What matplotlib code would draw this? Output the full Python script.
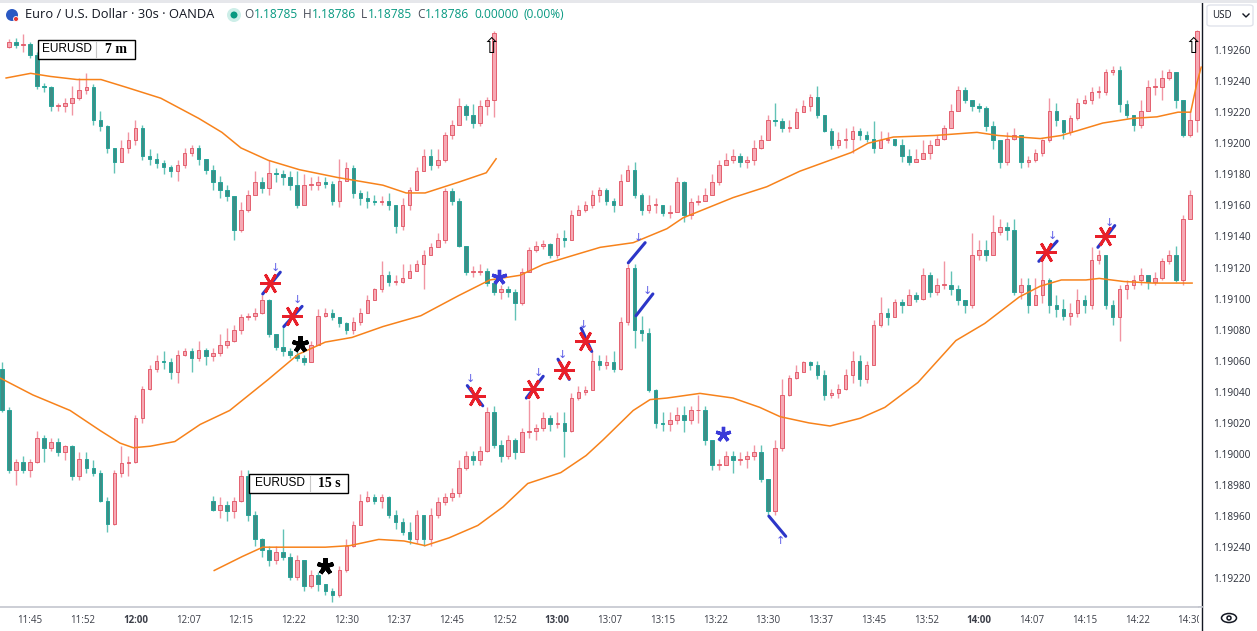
import matplotlib
matplotlib.use("Agg")
import matplotlib.pyplot as plt
from matplotlib.patches import Rectangle, Ellipse, FancyBboxPatch
from matplotlib.lines import Line2D
import numpy as np

plt.rcParams['font.family'] = ['Open Sans', 'DejaVu Sans']

W, H = 1257, 631

# ---- main 30s series (one candle per minute, x = minutes after 11:45) ----
main_t = np.arange(-4, 167)
main_open0 = 1.19055
main_close = [
    1.19028, 1.18990, 1.18995, 1.18990, 1.18995, 1.19010, 1.19004, 1.19008, 1.19001, 1.19005,
    1.18986, 1.18997, 1.18991, 1.18988, 1.18970, 1.18955, 1.18988, 1.18994, 1.18995, 1.19023,
    1.19042, 1.19055, 1.19060, 1.19059, 1.19053, 1.19064, 1.19066, 1.19062, 1.19067, 1.19063,
    1.19065, 1.19070, 1.19073, 1.19080, 1.19088, 1.19089, 1.19091, 1.19099, 1.19077, 1.19069,
    1.19066, 1.19064, 1.19062, 1.19059, 1.19070, 1.19089, 1.19091, 1.19088, 1.19084, 1.19080,
    1.19085, 1.19091, 1.19099, 1.19106, 1.19115, 1.19111, 1.19111, 1.19113, 1.19118, 1.19122,
    1.19128, 1.19133, 1.19138, 1.19169, 1.19163, 1.19134, 1.19117, 1.19117, 1.19118, 1.19110,
    1.19104, 1.19106, 1.19104, 1.19097, 1.19117, 1.19131, 1.19134, 1.19135, 1.19128, 1.19139,
    1.19138, 1.19154, 1.19157, 1.19160, 1.19167, 1.19170, 1.19163, 1.19160, 1.19176, 1.19183,
    1.19167, 1.19157, 1.19160, 1.19160, 1.19155, 1.19156, 1.19175, 1.19154, 1.19162, 1.19163,
    1.19167, 1.19175, 1.19186, 1.19189, 1.19192, 1.19188, 1.19189, 1.19197, 1.19202, 1.19215,
    1.19214, 1.19210, 1.19210, 1.19220, 1.19224, 1.19230, 1.19218, 1.19208, 1.19199, 1.19202,
    1.19203, 1.19208, 1.19205, 1.19203, 1.19197, 1.19202, 1.19203, 1.19199, 1.19192, 1.19188,
    1.19190, 1.19194, 1.19199, 1.19203, 1.19210, 1.19221, 1.19234, 1.19228, 1.19224, 1.19223,
    1.19211, 1.19202, 1.19188, 1.19203, 1.19205, 1.19188, 1.19189, 1.19194, 1.19202, 1.19221,
    1.19215, 1.19207, 1.19216, 1.19226, 1.19228, 1.19233, 1.19233, 1.19246, 1.19247, 1.19225,
    1.19218, 1.19212, 1.19221, 1.19236, 1.19236, 1.19242, 1.19246, 1.19228, 1.19205, 1.19215,
    1.19272,
]
main_high = [
    1.19059, 1.19030, 1.18997, 1.18999, 1.18997, 1.19015, 1.19012, 1.19010, 1.19010, 1.19006,
    1.19006, 1.19001, 1.19001, 1.18996, 1.18990, 1.18972, 1.18990, 1.19005, 1.18999, 1.19025,
    1.19044, 1.19057, 1.19064, 1.19066, 1.19062, 1.19067, 1.19068, 1.19068, 1.19073, 1.19068,
    1.19068, 1.19077, 1.19081, 1.19083, 1.19090, 1.19091, 1.19094, 1.19102, 1.19100, 1.19077,
    1.19082, 1.19068, 1.19067, 1.19064, 1.19073, 1.19093, 1.19094, 1.19093, 1.19088, 1.19085,
    1.19088, 1.19094, 1.19102, 1.19107, 1.19124, 1.19118, 1.19115, 1.19122, 1.19122, 1.19125,
    1.19131, 1.19136, 1.19142, 1.19171, 1.19171, 1.19165, 1.19134, 1.19121, 1.19122, 1.19120,
    1.19112, 1.19109, 1.19108, 1.19106, 1.19120, 1.19133, 1.19137, 1.19138, 1.19136, 1.19142,
    1.19144, 1.19157, 1.19160, 1.19163, 1.19170, 1.19172, 1.19171, 1.19165, 1.19180, 1.19186,
    1.19188, 1.19168, 1.19167, 1.19165, 1.19160, 1.19160, 1.19178, 1.19176, 1.19165, 1.19167,
    1.19171, 1.19180, 1.19189, 1.19194, 1.19196, 1.19194, 1.19192, 1.19202, 1.19205, 1.19218,
    1.19226, 1.19216, 1.19215, 1.19223, 1.19228, 1.19232, 1.19237, 1.19218, 1.19210, 1.19207,
    1.19210, 1.19211, 1.19210, 1.19208, 1.19214, 1.19208, 1.19207, 1.19203, 1.19203, 1.19196,
    1.19196, 1.19202, 1.19202, 1.19205, 1.19212, 1.19225, 1.19237, 1.19236, 1.19226, 1.19226,
    1.19224, 1.19214, 1.19199, 1.19207, 1.19210, 1.19205, 1.19192, 1.19196, 1.19203, 1.19229,
    1.19226, 1.19215, 1.19218, 1.19229, 1.19231, 1.19236, 1.19237, 1.19248, 1.19250, 1.19250,
    1.19228, 1.19218, 1.19228, 1.19241, 1.19242, 1.19247, 1.19248, 1.19246, 1.19228, 1.19221,
    1.19273,
]
main_low = [
    1.19027, 1.18988, 1.18980, 1.18988, 1.18985, 1.18994, 1.18995, 1.19002, 1.18999, 1.18996,
    1.18983, 1.18983, 1.18988, 1.18986, 1.18969, 1.18950, 1.18954, 1.18985, 1.18986, 1.18994,
    1.19020, 1.19041, 1.19053, 1.19055, 1.19048, 1.19046, 1.19063, 1.19053, 1.19060, 1.19057,
    1.19060, 1.19063, 1.19068, 1.19072, 1.19077, 1.19086, 1.19086, 1.19090, 1.19075, 1.19067,
    1.19063, 1.19062, 1.19060, 1.19057, 1.19059, 1.19070, 1.19088, 1.19086, 1.19082, 1.19077,
    1.19077, 1.19083, 1.19091, 1.19099, 1.19104, 1.19108, 1.19109, 1.19110, 1.19114, 1.19118,
    1.19106, 1.19128, 1.19133, 1.19136, 1.19160, 1.19133, 1.19115, 1.19114, 1.19115, 1.19108,
    1.19102, 1.19100, 1.19101, 1.19086, 1.19096, 1.19117, 1.19130, 1.19132, 1.19126, 1.19126,
    1.19133, 1.19138, 1.19154, 1.19156, 1.19158, 1.19162, 1.19160, 1.19156, 1.19160, 1.19176,
    1.19165, 1.19154, 1.19155, 1.19155, 1.19153, 1.19152, 1.19156, 1.19149, 1.19151, 1.19160,
    1.19163, 1.19170, 1.19173, 1.19186, 1.19187, 1.19185, 1.19184, 1.19186, 1.19196, 1.19202,
    1.19211, 1.19207, 1.19207, 1.19212, 1.19220, 1.19221, 1.19216, 1.19207, 1.19196, 1.19197,
    1.19197, 1.19194, 1.19202, 1.19201, 1.19194, 1.19199, 1.19200, 1.19198, 1.19188, 1.19186,
    1.19188, 1.19190, 1.19190, 1.19201, 1.19202, 1.19211, 1.19221, 1.19226, 1.19221, 1.19220,
    1.19208, 1.19196, 1.19184, 1.19186, 1.19202, 1.19184, 1.19185, 1.19188, 1.19192, 1.19201,
    1.19211, 1.19203, 1.19205, 1.19215, 1.19225, 1.19225, 1.19229, 1.19231, 1.19244, 1.19220,
    1.19216, 1.19208, 1.19210, 1.19229, 1.19231, 1.19228, 1.19241, 1.19223, 1.19204, 1.19204,
    1.19207,
]
main_ma_t = [-4.3, 0.4, 5.7, 10.0, 12.8, 14.7, 17.1, 20.6, 24.2, 28.4, 33.9, 38.1, 42.0, 45.8,
             50.2, 55.6, 61.0, 65.4, 69.7, 73.0, 77.4, 81.1, 85.8, 90.6, 92.9, 100.0, 104.8,
             109.5, 116.8, 119.2, 122.8, 128.7, 134.7, 137.7, 143.7, 146.7, 152.6, 156.8,
             160.3, 163.3, 165.1, 166.0, 166.6]
main_ma = [1.19049, 1.19038, 1.19028, 1.19015, 1.19007, 1.19004, 1.19005, 1.19008, 1.19019,
           1.19028, 1.19048, 1.19064, 1.19072, 1.19075, 1.19082, 1.19089, 1.19102, 1.19112,
           1.19115, 1.19122, 1.19128, 1.19133, 1.19136, 1.19145, 1.19152, 1.19165, 1.19172,
           1.19182, 1.19194, 1.19200, 1.19204, 1.19205, 1.19207, 1.19205, 1.19203, 1.19205,
           1.19213, 1.19216, 1.19217, 1.19220, 1.19220, 1.19239, 1.19249]

# ---- pasted "EURUSD 7 m" picture ----
m7_t = np.arange(-3, 67)
m7_open0 = 1.19262
m7_close = [
    1.19265, 1.19263, 1.19264, 1.19257, 1.19237, 1.19236, 1.19224, 1.19224, 1.19226, 1.19229,
    1.19234, 1.19236, 1.19215, 1.19211, 1.19197, 1.19188, 1.19197, 1.19202, 1.19210, 1.19192,
    1.19190, 1.19187, 1.19185, 1.19182, 1.19186, 1.19194, 1.19197, 1.19190, 1.19183, 1.19175,
    1.19170, 1.19166, 1.19144, 1.19157, 1.19167, 1.19175, 1.19171, 1.19181, 1.19180, 1.19178,
    1.19173, 1.19160, 1.19173, 1.19173, 1.19175, 1.19174, 1.19163, 1.19176, 1.19184, 1.19168,
    1.19165, 1.19163, 1.19162, 1.19163, 1.19160, 1.19147, 1.19160, 1.19170, 1.19182, 1.19192,
    1.19186, 1.19189, 1.19205, 1.19212, 1.19224, 1.19218, 1.19213, 1.19224, 1.19228, 1.19271,
]
m7_high = [
    1.19267, 1.19268, 1.19270, 1.19265, 1.19259, 1.19239, 1.19237, 1.19226, 1.19229, 1.19237,
    1.19242, 1.19245, 1.19238, 1.19221, 1.19212, 1.19197, 1.19202, 1.19207, 1.19215, 1.19212,
    1.19196, 1.19194, 1.19189, 1.19186, 1.19189, 1.19197, 1.19199, 1.19199, 1.19190, 1.19186,
    1.19179, 1.19173, 1.19165, 1.19162, 1.19170, 1.19182, 1.19178, 1.19189, 1.19184, 1.19183,
    1.19182, 1.19182, 1.19180, 1.19178, 1.19179, 1.19178, 1.19176, 1.19190, 1.19188, 1.19186,
    1.19170, 1.19169, 1.19167, 1.19166, 1.19168, 1.19160, 1.19165, 1.19172, 1.19185, 1.19196,
    1.19196, 1.19196, 1.19207, 1.19215, 1.19229, 1.19225, 1.19225, 1.19228, 1.19230, 1.19272,
]
m7_low = [
    1.19261, 1.19261, 1.19259, 1.19255, 1.19235, 1.19233, 1.19221, 1.19221, 1.19220, 1.19218,
    1.19228, 1.19232, 1.19212, 1.19208, 1.19194, 1.19181, 1.19189, 1.19194, 1.19199, 1.19189,
    1.19186, 1.19184, 1.19180, 1.19178, 1.19176, 1.19184, 1.19192, 1.19186, 1.19180, 1.19170,
    1.19165, 1.19163, 1.19138, 1.19143, 1.19156, 1.19167, 1.19168, 1.19167, 1.19175, 1.19173,
    1.19170, 1.19158, 1.19163, 1.19170, 1.19170, 1.19171, 1.19160, 1.19159, 1.19180, 1.19165,
    1.19160, 1.19158, 1.19160, 1.19160, 1.19157, 1.19142, 1.19144, 1.19157, 1.19170, 1.19182,
    1.19183, 1.19184, 1.19188, 1.19203, 1.19212, 1.19215, 1.19210, 1.19211, 1.19218, 1.19217,
]
m7_ma_t = [-3.4, 0.1, 2.9, 6.7, 10.1, 13.7, 18.6, 24.0, 27.3, 30.0, 33.9, 38.3, 43.7, 50.2,
           53.5, 56.2, 61.0, 64.9, 66.3]
m7_ma = [1.19242, 1.19245, 1.19243, 1.19241, 1.19241, 1.19236, 1.19229, 1.19216, 1.19207,
         1.19197, 1.19189, 1.19183, 1.19178, 1.19173, 1.19168, 1.19168, 1.19175, 1.19181, 1.19190]

# ---- pasted "EURUSD 15 s" picture ----
s15_t = np.arange(26, 166)
s15_open0 = 1.18970
s15_close = [
    1.18964, 1.18967, 1.18963, 1.18970, 1.18986, 1.18961, 1.18945, 1.18938, 1.18932, 1.18937,
    1.18934, 1.18921, 1.18932, 1.18915, 1.18922, 1.18916, 1.18912, 1.18909, 1.18925, 1.18941,
    1.18954, 1.18970, 1.18972, 1.18970, 1.18972, 1.18961, 1.18956, 1.18950, 1.18945, 1.18961,
    1.18945, 1.18961, 1.18969, 1.18972, 1.18975, 1.18991, 1.18999, 1.18996, 1.19002, 1.19027,
    1.19006, 1.18999, 1.19009, 1.19001, 1.19014, 1.19015, 1.19017, 1.19023, 1.19019, 1.19020,
    1.19015, 1.19036, 1.19040, 1.19041, 1.19060, 1.19057, 1.19059, 1.19055, 1.19085, 1.19120,
    1.19080, 1.19078, 1.19041, 1.19020, 1.19019, 1.19022, 1.19025, 1.19022, 1.19028, 1.19028,
    1.19009, 1.18993, 1.18993, 1.18999, 1.18996, 1.18997, 1.18999, 1.19001, 1.18984, 1.18963,
    1.19004, 1.19038, 1.19049, 1.19053, 1.19059, 1.19057, 1.19051, 1.19038, 1.19039, 1.19042,
    1.19051, 1.19060, 1.19048, 1.19057, 1.19083, 1.19091, 1.19088, 1.19098, 1.19096, 1.19102,
    1.19100, 1.19115, 1.19104, 1.19109, 1.19109, 1.19106, 1.19099, 1.19096, 1.19128, 1.19131,
    1.19128, 1.19143, 1.19146, 1.19144, 1.19104, 1.19109, 1.19096, 1.19102, 1.19112, 1.19096,
    1.19093, 1.19089, 1.19091, 1.19099, 1.19096, 1.19125, 1.19128, 1.19096, 1.19088, 1.19106,
    1.19109, 1.19112, 1.19115, 1.19111, 1.19113, 1.19124, 1.19128, 1.19112, 1.19151, 1.19167,
]
s15_high = [
    1.18973, 1.18972, 1.18970, 1.18972, 1.18990, 1.18990, 1.18963, 1.18946, 1.18941, 1.18941,
    1.18952, 1.18936, 1.18935, 1.18930, 1.18925, 1.18924, 1.18916, 1.18914, 1.18928, 1.18945,
    1.18957, 1.18974, 1.18976, 1.18974, 1.18974, 1.18973, 1.18964, 1.18959, 1.18956, 1.18964,
    1.18961, 1.18965, 1.18972, 1.18975, 1.18978, 1.18996, 1.19002, 1.19002, 1.19005, 1.19030,
    1.19031, 1.19009, 1.19012, 1.19010, 1.19017, 1.19035, 1.19019, 1.19027, 1.19025, 1.19027,
    1.19027, 1.19039, 1.19044, 1.19044, 1.19066, 1.19064, 1.19064, 1.19066, 1.19088, 1.19122,
    1.19122, 1.19089, 1.19081, 1.19042, 1.19027, 1.19027, 1.19030, 1.19031, 1.19031, 1.19038,
    1.19031, 1.19009, 1.18997, 1.19002, 1.19002, 1.19001, 1.19002, 1.19006, 1.19006, 1.18980,
    1.19009, 1.19048, 1.19051, 1.19057, 1.19060, 1.19060, 1.19060, 1.19054, 1.19042, 1.19045,
    1.19055, 1.19066, 1.19064, 1.19060, 1.19086, 1.19101, 1.19094, 1.19100, 1.19100, 1.19106,
    1.19104, 1.19120, 1.19117, 1.19113, 1.19124, 1.19118, 1.19109, 1.19099, 1.19142, 1.19138,
    1.19138, 1.19154, 1.19151, 1.19149, 1.19151, 1.19113, 1.19113, 1.19113, 1.19124, 1.19113,
    1.19102, 1.19100, 1.19097, 1.19106, 1.19102, 1.19133, 1.19131, 1.19128, 1.19099, 1.19109,
    1.19112, 1.19115, 1.19120, 1.19115, 1.19117, 1.19126, 1.19131, 1.19134, 1.19154, 1.19170,
]
s15_low = [
    1.18963, 1.18959, 1.18957, 1.18959, 1.18969, 1.18957, 1.18941, 1.18934, 1.18928, 1.18929,
    1.18932, 1.18919, 1.18919, 1.18912, 1.18914, 1.18912, 1.18909, 1.18905, 1.18908, 1.18924,
    1.18940, 1.18954, 1.18969, 1.18968, 1.18965, 1.18959, 1.18952, 1.18948, 1.18942, 1.18943,
    1.18941, 1.18941, 1.18959, 1.18967, 1.18970, 1.18972, 1.18990, 1.18993, 1.18993, 1.19001,
    1.19004, 1.18995, 1.18997, 1.18997, 1.19002, 1.19010, 1.19009, 1.19015, 1.19015, 1.19017,
    1.18998, 1.19014, 1.19035, 1.19038, 1.19041, 1.19054, 1.19055, 1.19053, 1.19054, 1.19083,
    1.19068, 1.19073, 1.19040, 1.19017, 1.19015, 1.19015, 1.19019, 1.19014, 1.19019, 1.19020,
    1.19006, 1.18990, 1.18990, 1.18995, 1.18988, 1.18993, 1.18991, 1.18996, 1.18982, 1.18960,
    1.18961, 1.19002, 1.19037, 1.19048, 1.19053, 1.19054, 1.19048, 1.19035, 1.19036, 1.19036,
    1.19041, 1.19046, 1.19044, 1.19046, 1.19059, 1.19082, 1.19083, 1.19088, 1.19091, 1.19096,
    1.19098, 1.19099, 1.19101, 1.19102, 1.19106, 1.19102, 1.19096, 1.19091, 1.19094, 1.19125,
    1.19124, 1.19133, 1.19141, 1.19138, 1.19102, 1.19100, 1.19091, 1.19096, 1.19097, 1.19091,
    1.19088, 1.19086, 1.19083, 1.19088, 1.19091, 1.19093, 1.19122, 1.19093, 1.19083, 1.19073,
    1.19100, 1.19106, 1.19109, 1.19106, 1.19109, 1.19112, 1.19122, 1.19111, 1.19109, 1.19152,
]
s15_ma_t = [26.2, 30.2, 33.1, 37.3, 42.0, 45.5, 49.6, 53.2, 56.2, 59.6, 63.7, 67.3, 70.8,
            75.5, 79.1, 81.5, 85.8, 88.2, 90.6, 95.3, 100.0, 103.8, 106.7, 110.8, 113.8,
            118.1, 121.6, 126.3, 131.7, 135.8, 140.7, 143.7, 146.7, 150.2, 152.1, 155.6,
            159.7, 163.3, 165.3]
s15_ma = [1.18925, 1.18934, 1.18940, 1.18940, 1.18940, 1.18941, 1.18945, 1.18944, 1.18941,
          1.18946, 1.18954, 1.18966, 1.18981, 1.18988, 1.18999, 1.19009, 1.19028, 1.19035,
          1.19036, 1.19039, 1.19036, 1.19030, 1.19024, 1.19020, 1.19018, 1.19023, 1.19030,
          1.19046, 1.19073, 1.19084, 1.19101, 1.19108, 1.19112, 1.19112, 1.19113, 1.19111,
          1.19110, 1.19110, 1.19110]

# ---- hand-drawn annotations ----
red_star_t = [34.1, 37.3, 63.3, 71.6, 76.0, 78.9, 144.5, 152.9]
red_star_p = [1.19110, 1.19089, 1.19037, 1.19042, 1.19054, 1.19073, 1.19130, 1.19140]
blue_seg_t = [(33.1, 35.6), (36.1, 38.7), (62.2, 64.4), (70.6, 73.0), (75.1, 76.7),
              (78.4, 79.9), (85.1, 87.5), (86.2, 88.6), (105.1, 107.5), (143.5, 146.1),
              (151.9, 154.3)]
blue_seg_p = [(1.19103, 1.19117), (1.19082, 1.19095), (1.19044, 1.19031), (1.19036, 1.19050),
              (1.19061, 1.19048), (1.19081, 1.19066), (1.19123, 1.19136), (1.19089, 1.19103),
              (1.18960, 1.18947), (1.19124, 1.19137), (1.19133, 1.19147)]
down_arrow_t = [34.9, 38.0, 62.7, 72.3, 75.7, 78.7, 86.6, 87.8, 145.4, 153.6]
down_arrow_p = [1.19120, 1.19099, 1.19048, 1.19052, 1.19064, 1.19083, 1.19139, 1.19105,
                1.19140, 1.19149]
up_arrow_t = [106.7]
up_arrow_p = [1.18944]
blue_ast_t = [66.7, 98.6]
blue_ast_p = [1.19114, 1.19013]
black_ast_t = [38.4, 42.0]
black_ast_p = [1.19071, 1.18928]
hollow_arrow_t = [65.6, 165.4]
hollow_arrow_p = [1.19262, 1.19262]

time_labels = ['11:45', '11:52', '12:00', '12:07', '12:15', '12:22', '12:30', '12:37',
               '12:45', '12:52', '13:00', '13:07', '13:15', '13:22', '13:30', '13:37',
               '13:45', '13:52', '14:00', '14:07', '14:15', '14:22', '14:30']
price_ticks = [1.19260, 1.19240, 1.19220, 1.19200, 1.19180, 1.19160, 1.19140, 1.19120,
               1.19100, 1.19080, 1.19060, 1.19040, 1.19020, 1.19000, 1.18980, 1.18960,
               1.18940, 1.18920]
price_labels = ['1.19260', '1.19240', '1.19220', '1.19200', '1.19180', '1.19160', '1.19140',
                '1.19120', '1.19100', '1.19080', '1.19060', '1.19040', '1.19020', '1.19000',
                '1.18980', '1.18960', '1.19240', '1.19220']

header_title = 'Euro / U.S. Dollar · 30s · OANDA'
header_ohlc = [('O', '1.18785'), ('H', '1.18786'), ('L', '1.18785'), ('C', '1.18786'),
               ('', '0.00000'), ('', '(0.00%)')]

UP_FACE, UP_EDGE, UP_WICK = '#f6a9b4', '#e4606f', '#f195a3'
DN_FACE, DN_EDGE, DN_WICK = '#3d8e86', '#26a69a', '#62c2b6'
ORANGE = '#f7821b'
BLUE = '#2c36c8'


def px(x, y):
    return x / W, 1 - y / H


def draw_candles(ax, t, open0, close, high, low, width=0.5):
    close = np.asarray(close)
    opens = np.concatenate([[open0], close[:-1]])
    high = np.maximum(np.asarray(high), np.maximum(opens, close))
    low = np.minimum(np.asarray(low), np.minimum(opens, close))
    up = close >= opens
    for mask, face, edge, wick in ((up, UP_FACE, UP_EDGE, UP_WICK),
                                   (~up, DN_FACE, DN_EDGE, DN_WICK)):
        ax.vlines(t[mask], low[mask], high[mask], color=wick, lw=1, zorder=2)
        body = np.maximum(np.abs(close - opens), 0.000006)[mask]
        bottom = np.minimum(opens, close)[mask]
        ax.bar(t[mask], body, bottom=bottom, width=width, color=face,
               edgecolor=edge, linewidth=0.7, zorder=3)


fig = plt.figure(figsize=(W / 100, H / 100), dpi=100)
fig.patch.set_facecolor('white')
ax = fig.add_axes([0, 24 / H, 1202 / W, 607 / H])
ax.set_facecolor('white')

draw_candles(ax, main_t, main_open0, main_close, main_high, main_low)
draw_candles(ax, m7_t, m7_open0, m7_close, m7_high, m7_low)
draw_candles(ax, s15_t, s15_open0, s15_close, s15_high, s15_low)

ax.plot(main_ma_t, main_ma, color=ORANGE, lw=1.1, zorder=4)
ax.plot(m7_ma_t, m7_ma, color=ORANGE, lw=1.1, zorder=4)
ax.plot(s15_ma_t, s15_ma, color=ORANGE, lw=1.1, zorder=4)

for (t1, t2), (p1, p2) in zip(blue_seg_t, blue_seg_p):
    ax.plot([t1, t2], [p1, p2], color=BLUE, lw=2.2, solid_capstyle='round', zorder=7)
ax.plot(red_star_t, red_star_p, ls='none', marker=(6, 2, 90), ms=15, mew=2.0,
        color='#e8202a', zorder=8)
for t, p in zip(down_arrow_t, down_arrow_p):
    ax.text(t, p, '↓', color='#5a5ae6', fontsize=8, ha='center', va='center',
            family='DejaVu Sans', zorder=8)
for t, p in zip(up_arrow_t, up_arrow_p):
    ax.text(t, p, '↑', color='#5a5ae6', fontsize=8, ha='center', va='center',
            family='DejaVu Sans', zorder=8)
ax.plot(blue_ast_t, blue_ast_p, ls='none', marker=(5, 2, 0), ms=11, mew=2.4,
        color='#3a3ad8', zorder=8)
ax.plot(black_ast_t, black_ast_p, ls='none', marker=(5, 2, 0), ms=12, mew=3,
        color='black', zorder=8)
for t, p in zip(hollow_arrow_t, hollow_arrow_p):
    ax.text(t, p, '⇧', color='black', fontsize=15, ha='center', va='center',
            family='DejaVu Sans', zorder=9)

ax.set_xlim(-4.27, 166.71)
ax.set_ylim(1.189015, 1.192922)

ax.set_xticks(np.arange(len(time_labels)) * 7.5)
ax.set_xticklabels(time_labels)
for lab in ax.get_xticklabels():
    if lab.get_text().endswith(':00'):
        lab.set_fontweight('bold')
        lab.set_color('#131722')
ax.yaxis.tick_right()
ax.set_yticks(price_ticks)
ax.set_yticklabels(price_labels)
ax.tick_params(axis='x', length=0, pad=6, labelsize=7, labelcolor='#3b3e48')
ax.tick_params(axis='y', length=0, pad=8, labelsize=7.3, labelcolor='#2a2e39')
for side in ('top', 'left'):
    ax.spines[side].set_visible(False)
ax.spines['right'].set_color('#131722')
ax.spines['right'].set_linewidth(1)
ax.spines['bottom'].set_color('#c3c6ce')
ax.spines['bottom'].set_linewidth(1.2)

# the price scale hides the end of the last time label
fig.add_artist(Rectangle(px(1199, 631), 58 / W, 24 / H, transform=fig.transFigure,
                         facecolor='white', edgecolor='none', zorder=5))
fig.add_artist(Line2D([1202 / W] * 2, [0, 24 / H], transform=fig.transFigure,
                      color='#131722', lw=1, zorder=6))
fig.add_artist(Line2D([1199 / W, 1202 / W], [1 - 607 / H] * 2, transform=fig.transFigure,
                      color='#c3c6ce', lw=1.2, zorder=6))
fig.add_artist(Rectangle(px(0, 3), 1, 3 / H, transform=fig.transFigure,
                         facecolor='#e6e7eb', edgecolor='none', zorder=6))

# eye icon
fig.add_artist(Ellipse(px(1229, 618), 15 / W, 9 / H, transform=fig.transFigure,
                       facecolor='none', edgecolor='#131722', lw=1.1, zorder=7))
fig.add_artist(Ellipse(px(1229, 618), 4 / W, 4 / H, transform=fig.transFigure,
                       facecolor='none', edgecolor='#131722', lw=1.1, zorder=7))

# USD selector
fig.add_artist(FancyBboxPatch(px(1207, 26), 46 / W, 21 / H, transform=fig.transFigure,
                              boxstyle='round,pad=0,rounding_size=0.003',
                              facecolor='white', edgecolor='#e0e3eb', lw=1, zorder=7))
fig.text(*px(1212, 15.5), 'USD', fontsize=7, color='#131722', va='center', zorder=8)
fig.add_artist(Line2D([1243 / W, 1246 / W, 1249 / W], [1 - 14 / H, 1 - 17 / H, 1 - 14 / H],
                      transform=fig.transFigure, color='#131722', lw=1, zorder=8))

# header
fig.add_artist(Ellipse(px(12, 15), 12 / W, 12 / H, transform=fig.transFigure,
                       facecolor='#2b59c3', edgecolor='none', zorder=8))
fig.add_artist(Ellipse(px(16, 19), 5 / W, 5 / H, transform=fig.transFigure,
                       facecolor='#e53935', edgecolor='white', lw=0.6, zorder=8))
fig.text(*px(25, 15), header_title, fontsize=9.3, color='#131722', va='center', zorder=8)
fig.add_artist(Ellipse(px(234, 15), 14 / W, 14 / H, transform=fig.transFigure,
                       facecolor='#cdeee8', edgecolor='none', zorder=8))
fig.add_artist(Ellipse(px(234, 15), 7 / W, 7 / H, transform=fig.transFigure,
                       facecolor='#089981', edgecolor='none', zorder=8))

renderer = fig.canvas.get_renderer()
x = 244
for letter, value in header_ohlc:
    if letter:
        t = fig.text(*px(x, 15), letter, fontsize=8.6, color='#4a4e5a', va='center', zorder=8)
        x = t.get_window_extent(renderer).x1 + 0.5
    t = fig.text(*px(x, 15), value, fontsize=8.6, color='#089981', va='center', zorder=8)
    x = t.get_window_extent(renderer).x1 + 5


def label_box(x0, y0, x1, y1, xdiv, name, tf):
    fig.add_artist(Rectangle(px(x0, y1), (x1 - x0) / W, (y1 - y0) / H,
                             transform=fig.transFigure, facecolor='white',
                             edgecolor='black', lw=1, zorder=10))
    fig.add_artist(Line2D([xdiv / W] * 2, [1 - (y0 + 2) / H, 1 - (y1 - 2) / H],
                          transform=fig.transFigure, color='#c8c8c8', lw=0.8, zorder=11))
    yc = (y0 + y1) / 2
    fig.text(*px((x0 + xdiv) / 2, yc), name, fontsize=8.6, color='black', ha='center',
             va='center', family='Liberation Sans', zorder=11)
    fig.text(*px((xdiv + x1) / 2, yc), tf, fontsize=10, color='black', ha='center',
             va='center', family='Liberation Serif', fontweight='bold', zorder=11)


label_box(38, 40, 135, 59, 96, 'EURUSD', '7 m')
label_box(249, 474, 348, 493, 310, 'EURUSD', '15 s')

fig.savefig('out.png', dpi=100, facecolor='white')
